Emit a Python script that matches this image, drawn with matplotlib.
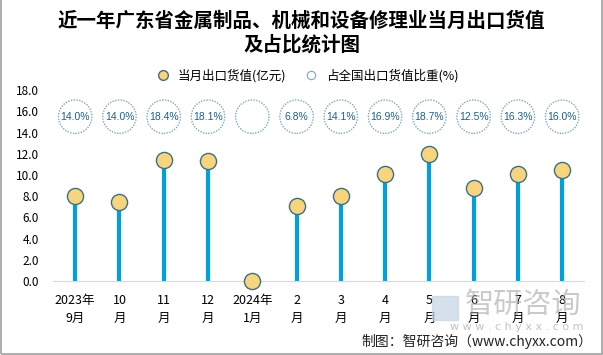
import matplotlib.pyplot as plt
from matplotlib.lines import Line2D
from matplotlib.patches import Rectangle

plt.rcParams['font.family'] = ['Noto Sans CJK SC', 'DejaVu Sans']

# 数据
months = ['2023年\n9月', '10\n月', '11\n月', '12\n月', '2024年\n1月', '2\n月',
          '3\n月', '4\n月', '5\n月', '6\n月', '7\n月', '8\n月']
export_value = [8.0, 7.45, 11.4, 11.3, 0.0, 7.1, 8.0, 10.1, 12.0, 8.8, 10.1, 10.5]
share = ['14.0%', '14.0%', '18.4%', '18.1%', '', '6.8%', '14.1%', '16.9%',
         '18.7%', '12.5%', '16.3%', '16.0%']

fig = plt.figure(figsize=(6.03, 3.55), dpi=100)
ax = fig.add_axes([0.088, 0.208, 0.881, 0.538])

x = list(range(len(months)))
ax.vlines(x, 0, export_value, color='#00A0DC', linewidth=3, zorder=2)
ax.scatter(x, export_value, s=135, color='#F6D57E', edgecolors='#3F6F80',
           linewidths=1.0, zorder=3, clip_on=False)

# 占比圆圈
ax.scatter(x, [15.5] * len(x), s=580, facecolors='none', edgecolors='#7FA7BA',
           linewidths=1.0, linestyle=(0, (1, 1)), zorder=3, clip_on=False)
for xi, s in zip(x, share):
    ax.text(xi, 15.5, s, ha='center', va='center', fontsize=7.5,
            color='#1F5F8B', family=['Liberation Sans'])

ax.set_xlim(-0.5, len(x) - 0.5)
ax.set_ylim(0, 18)
ax.set_yticks([i * 2 for i in range(10)])
ax.set_yticklabels([f'{i * 2:.1f}' for i in range(10)], fontsize=8.5)
ax.set_xticks(x)
ax.set_xticklabels(months, fontsize=9, linespacing=1.5)
ax.tick_params(axis='y', length=0, pad=10)
ax.tick_params(axis='x', length=0, pad=9)
for side in ['top', 'right', 'left']:
    ax.spines[side].set_visible(False)
ax.spines['bottom'].set_color('#D9D9D9')

# 标题
fig.text(0.5, 0.907, '近一年广东省金属制品、机械和设备修理业当月出口货值\n及占比统计图',
         ha='center', va='center', fontsize=14, fontweight='bold', linespacing=1.2)

# 图例
handles = [
    Line2D([], [], marker='o', linestyle='none', markersize=7,
           markerfacecolor='#F6D57E', markeredgecolor='#3F6F80'),
    Line2D([], [], marker='o', linestyle='none', markersize=6,
           markerfacecolor='none', markeredgecolor='#7FA7BA', markeredgewidth=0.8),
]
fig.legend(handles, ['当月出口货值(亿元)', '占全国出口货值比重(%)'],
           loc='center', bbox_to_anchor=(0.505, 0.788), ncol=2, frameon=False,
           fontsize=9, handletextpad=0.2, columnspacing=1.0)

# 水印与来源
fig.patches.append(Rectangle((0.716, 0.1), 0.043, 0.065, transform=fig.transFigure,
                             color='#C5D3E3', alpha=0.7, zorder=0))
fig.text(0.771, 0.14, '智研咨询', fontsize=21, color='#A8A8A8', alpha=0.6,
         ha='left', va='center')
fig.text(0.967, 0.079, 'w w w . c h y x x . c o m', fontsize=8, color='#A8A8A8',
         alpha=0.7, ha='right', va='center', family=['DejaVu Sans'])
fig.text(0.982, 0.039, '制图：智研咨询（www.chyxx.com）', fontsize=10,
         ha='right', va='center', color='#222222')

fig.patches.append(Rectangle((0.001, 0.003), 0.997, 1.2, transform=fig.transFigure,
                             fill=False, edgecolor='#A0A0A0', linewidth=1.2))

fig.savefig('out.png', dpi=100)
